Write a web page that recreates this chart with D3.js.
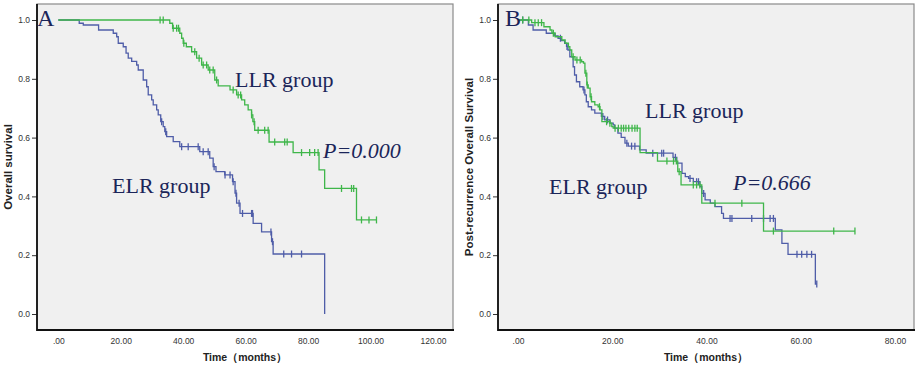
<!DOCTYPE html>
<html>
<head>
<meta charset="utf-8">
<script src="https://cdn.jsdelivr.net/npm/d3@7"></script>
<style>
  html, body { margin: 0; padding: 0; background: #fff; }
  svg { display: block; }
</style>
</head>
<body>
<svg id="svg"></svg>
<script>
// ---- data ----
// panel A: overall survival
var aElrTime = [0, 6.7, 8.0, 12.9, 17.6, 18.7, 19.2, 20.8, 21.7, 22.4, 23.5, 25.1, 25.6, 27.2, 28.3, 28.8, 29.9, 30.4, 31.5, 32.0, 32.8, 33.6, 34.1, 34.7, 36.8, 38.9, 45.3, 48.5, 49.6, 50.5, 53.3, 55.8, 56.6, 57.1, 58.2, 62.4, 65.1, 68.3, 68.8, 85.3];
var aElrSurv = [1.0, 0.989, 0.983, 0.966, 0.955, 0.943, 0.921, 0.909, 0.887, 0.870, 0.859, 0.847, 0.830, 0.796, 0.773, 0.745, 0.728, 0.711, 0.694, 0.677, 0.654, 0.637, 0.620, 0.603, 0.586, 0.569, 0.552, 0.530, 0.501, 0.484, 0.473, 0.450, 0.411, 0.377, 0.342, 0.308, 0.279, 0.246, 0.204, 0.0];
var aElrCens = [33.1, 34.4, 39.5, 41.6, 44.8, 46.4, 48.0, 49.9, 53.4, 55.0, 56.0, 56.9, 57.9, 59.0, 61.9, 62.2, 68.1, 68.6, 72.2, 74.7, 77.9];

var aLlrTime = [0, 35.7, 36.6, 38.9, 39.5, 40.0, 41.0, 42.7, 44.3, 45.9, 48.0, 50.1, 51.2, 55.0, 57.1, 58.7, 59.7, 60.8, 61.9, 62.3, 62.9, 67.5, 75.2, 83.5, 85.3, 95.5];
var aLlrSurv = [1.0, 0.989, 0.972, 0.955, 0.938, 0.921, 0.909, 0.892, 0.870, 0.847, 0.830, 0.796, 0.776, 0.762, 0.745, 0.728, 0.711, 0.694, 0.677, 0.654, 0.625, 0.585, 0.549, 0.490, 0.427, 0.320];
var aLlrEnd = 101.9;
var aLlrCens = [32.6, 33.6, 36.8, 37.9, 38.5, 40.2, 43.7, 45.1, 46.4, 47.5, 48.5, 49.6, 50.7, 56.0, 57.6, 58.4, 61.9, 62.7, 64.0, 66.1, 67.2, 69.3, 72.5, 73.3, 77.9, 80.5, 82.1, 83.2, 90.7, 93.9, 94.6, 97.1, 99.5, 101.9];

// panel B: post-recurrence overall survival
var bElrTime = [0, 2.2, 3.2, 6.0, 7.8, 8.5, 9.2, 9.9, 10.3, 10.6, 11.0, 11.7, 12.0, 12.4, 13.1, 13.8, 14.2, 14.5, 14.9, 15.6, 16.3, 17.7, 18.4, 19.5, 20.2, 20.5, 21.2, 21.9, 22.7, 23.4, 25.8, 27.2, 32.9, 33.7, 34.8, 35.5, 36.2, 37.2, 38.6, 39.0, 39.7, 40.8, 41.8, 43.2, 43.6, 54.6, 56.0, 57.3, 63.1];
var bElrSurv = [1.0, 0.983, 0.966, 0.955, 0.946, 0.938, 0.930, 0.921, 0.910, 0.898, 0.875, 0.841, 0.813, 0.790, 0.773, 0.762, 0.745, 0.722, 0.705, 0.694, 0.683, 0.672, 0.660, 0.649, 0.643, 0.632, 0.615, 0.601, 0.581, 0.571, 0.558, 0.547, 0.533, 0.513, 0.478, 0.467, 0.461, 0.450, 0.433, 0.410, 0.388, 0.377, 0.365, 0.342, 0.325, 0.286, 0.240, 0.203, 0.102];
var bElrEnd = 63.4;
var bElrCens = [1.0, 9.0, 10.4, 14.0, 18.0, 19.0, 23.1, 24.1, 24.8, 28.6, 30.5, 30.9, 33.4, 36.5, 37.9, 38.3, 39.4, 45.0, 45.4, 49.6, 52.1, 53.5, 54.2, 59.2, 60.2, 61.3, 62.3, 63.4];

var bLlrTime = [0, 2.9, 5.5, 6.8, 7.2, 7.9, 9.3, 10.0, 10.7, 11.0, 11.4, 12.1, 13.5, 13.9, 14.2, 14.6, 14.9, 15.3, 15.6, 16.3, 17.0, 17.4, 17.8, 19.5, 19.9, 20.2, 25.9, 29.6, 33.9, 34.6, 39.0, 52.1];
var bLlrSurv = [1.0, 0.991, 0.977, 0.966, 0.955, 0.943, 0.932, 0.921, 0.909, 0.898, 0.875, 0.864, 0.858, 0.853, 0.819, 0.779, 0.768, 0.739, 0.722, 0.711, 0.705, 0.694, 0.654, 0.649, 0.637, 0.632, 0.549, 0.520, 0.484, 0.439, 0.377, 0.282];
var bLlrEnd = 71.5;
var bLlrCens = [1.0, 2.3, 3.6, 4.3, 5.0, 7.5, 11.7, 12.5, 13.2, 14.4, 14.7, 15.5, 17.3, 18.8, 19.5, 20.6, 21.3, 21.9, 22.4, 22.9, 23.5, 24.2, 24.8, 25.3, 31.6, 33.0, 33.6, 34.2, 37.2, 37.9, 38.6, 41.8, 47.5, 54.2, 67.0, 71.5];

var yTicks = [0, 0.2, 0.4, 0.6, 0.8, 1.0];
var aXTicks = [0, 20, 40, 60, 80, 100, 120];
var bXTicks = [0, 20, 40, 60, 80];

var W = 918, H = 369;
var blue = "#4f5da8", green = "#3fb64a", ink = "#1b2559";

svg = d3.select("#svg").attr("width", W).attr("height", H);

function survAt(times, surv, t) {
    var s = surv[0];
    for (var i = 0; i < times.length; i++) {
        if (times[i] <= t) s = surv[i];
    }
    return s;
}

function stepPoints(times, surv, end) {
    var pts = times.map((t, i) => [t, surv[i]]);
    if (end !== undefined) pts.push([end, surv[surv.length - 1]]);
    return pts;
}

function drawPanel(p) {
    var g = svg.append("g");
    var xScale = d3.scaleLinear().domain(p.xDomain).range(p.xRange);
    var yScale = d3.scaleLinear().domain([0, 1]).range([314, 20]);

    // plot background + frame
    g.append("rect")
        .attr("x", p.x0).attr("y", p.y0)
        .attr("width", p.x1 - p.x0).attr("height", p.y1 - p.y0)
        .attr("fill", "#f0f0f0")
        .attr("stroke", "#8a8a8a")
        .attr("stroke-width", 1.2);

    // y axis
    var yAxis = g.append("g")
        .attr("transform", `translate(${p.x0}, 0)`)
        .call(d3.axisLeft(yScale).tickValues(yTicks).tickFormat(d3.format(".1f")).tickSize(5).tickPadding(2));
    yAxis.select(".domain").remove();
    yAxis.selectAll("line").attr("stroke", "#333");
    yAxis.selectAll("text").attr("font-family", "Liberation Sans, Arial, sans-serif").attr("font-size", 8.5).attr("fill", "#333");

    // x axis
    var xAxis = g.append("g")
        .attr("transform", `translate(0, ${p.y1})`)
        .call(d3.axisBottom(xScale).tickValues(p.xTicks).tickFormat(d => d === 0 ? ".00" : d3.format(".2f")(d)).tickSize(0).tickPadding(8));
    xAxis.select(".domain").remove();
    xAxis.selectAll("text").attr("font-family", "Liberation Sans, Arial, sans-serif").attr("font-size", 8.5).attr("fill", "#333");

    // axis lines
    g.append("line").attr("x1", p.x0).attr("x2", p.x0).attr("y1", p.y0).attr("y2", p.y1 + 1)
        .attr("stroke", "#111").attr("stroke-width", 1.8);
    g.append("line").attr("x1", p.x0).attr("x2", p.x1 + 1).attr("y1", p.y1).attr("y2", p.y1)
        .attr("stroke", "#111").attr("stroke-width", 1.8);

    // titles
    g.append("text")
        .attr("x", (p.x0 + p.x1) / 2).attr("y", 361)
        .attr("text-anchor", "middle")
        .attr("font-family", "Liberation Sans, Arial, sans-serif")
        .attr("font-weight", "bold").attr("font-size", 10.5).attr("fill", "#222")
        .text("Time（months）");
    g.append("text")
        .attr("transform", `translate(${p.yTitleX}, ${(p.y0 + p.y1) / 2}) rotate(-90)`)
        .attr("text-anchor", "middle")
        .attr("font-family", "Liberation Sans, Arial, sans-serif")
        .attr("font-weight", "bold").attr("font-size", 11.5).attr("fill", "#222")
        .text(p.yTitle);

    var line = d3.line().curve(d3.curveStepAfter).x(d => xScale(d[0])).y(d => yScale(d[1]));

    p.series.forEach(s => {
        g.append("path")
            .datum(stepPoints(s.time, s.surv, s.end))
            .attr("fill", "none")
            .attr("stroke", s.color)
            .attr("stroke-width", 1.3)
            .attr("d", line);
        g.selectAll(null)
            .data(s.cens)
            .enter().append("line")
            .attr("x1", d => xScale(d)).attr("x2", d => xScale(d))
            .attr("y1", d => yScale(survAt(s.time, s.surv, d)) - 3.5)
            .attr("y2", d => yScale(survAt(s.time, s.surv, d)) + 3.5)
            .attr("stroke", s.color)
            .attr("stroke-width", 1.3);
    });

    // annotations
    p.notes.forEach(n => {
        g.append("text")
            .attr("x", n.x).attr("y", n.y)
            .attr("font-family", "Liberation Serif, Times New Roman, serif")
            .attr("font-size", n.size || 22)
            .attr("font-style", n.italic ? "italic" : "normal")
            .attr("fill", ink)
            .text(n.text);
    });
}

drawPanel({
    x0: 37, x1: 453, y0: 4, y1: 330,
    xDomain: [0, 120], xRange: [58.3, 433], xTicks: aXTicks,
    yTitle: "Overall survival", yTitleX: 12,
    series: [
        {time: aElrTime, surv: aElrSurv, cens: aElrCens, color: blue},
        {time: aLlrTime, surv: aLlrSurv, end: aLlrEnd, cens: aLlrCens, color: green}
    ],
    notes: [
        {text: "A", x: 37, y: 26, size: 24},
        {text: "LLR group", x: 235, y: 87},
        {text: "ELR group", x: 112, y: 193},
        {text: "P=0.000", x: 323, y: 158, italic: true}
    ]
});

drawPanel({
    x0: 498, x1: 914, y0: 4, y1: 330,
    xDomain: [0, 80], xRange: [518, 895], xTicks: bXTicks,
    yTitle: "Post-recurrence Overall Survival", yTitleX: 473,
    series: [
        {time: bElrTime, surv: bElrSurv, end: bElrEnd, cens: bElrCens, color: blue},
        {time: bLlrTime, surv: bLlrSurv, end: bLlrEnd, cens: bLlrCens, color: green}
    ],
    notes: [
        {text: "B", x: 505, y: 26, size: 24},
        {text: "LLR group", x: 645, y: 118},
        {text: "ELR group", x: 549, y: 194},
        {text: "P=0.666", x: 733, y: 190, italic: true}
    ]
});
</script>
</body>
</html>
